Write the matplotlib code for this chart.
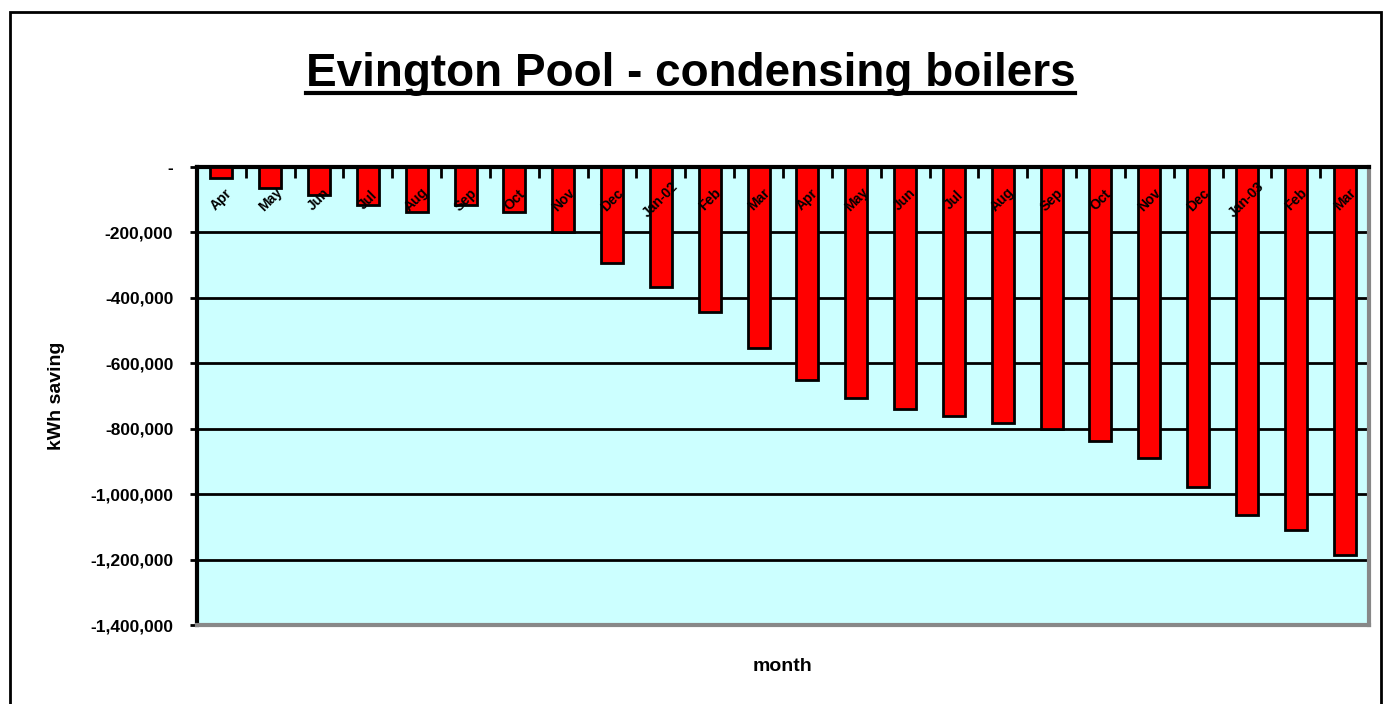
import matplotlib
matplotlib.use("Agg")
from matplotlib import pyplot as plt
from matplotlib.ticker import FuncFormatter
from matplotlib.patches import Rectangle
from matplotlib.lines import Line2D

# months (two years of cumulative savings)
months = ["Apr", "May", "Jun", "Jul", "Aug", "Sep", "Oct", "Nov", "Dec", "Jan-02", "Feb", "Mar",
          "Apr", "May", "Jun", "Jul", "Aug", "Sep", "Oct", "Nov", "Dec", "Jan-03", "Feb", "Mar"]
savings = [-34000, -64000, -86000, -116000, -138000, -116000, -138000, -199000,
           -294000, -367000, -443000, -554000, -651000, -706000, -740000, -761000,
           -783000, -801000, -838000, -890000, -979000, -1064000, -1110000, -1187000]
yticks = [0, -200000, -400000, -600000, -800000, -1000000, -1200000, -1400000]

plt.rcParams['font.family'] = ['Liberation Sans', 'DejaVu Sans']

fig = plt.figure(figsize=(13.91, 7.04), dpi=100)
ax = fig.add_axes([0.1416, 0.1122, 0.9842 - 0.1416, 0.7628 - 0.1122])
ax.set_facecolor("#ccffff")

x = list(range(len(savings)))
ax.bar(x, savings, width=0.45, color="#ff0000", edgecolor="black", linewidth=2, zorder=3)

ax.set_xlim(-0.5, len(savings) - 0.5)
ax.set_ylim(-1400000, 0)
ax.set_yticks(yticks)
ax.yaxis.set_major_formatter(FuncFormatter(lambda v, p: "-" if v == 0 else "{:,.0f}".format(v)))
ax.grid(axis="y", color="black", linewidth=2, zorder=1)
ax.tick_params(axis="y", direction="out", length=5, width=2, labelsize=12.5, pad=12)
for lab in ax.get_yticklabels():
    lab.set_fontweight("bold")

# category ticks hang down from the zero line
ax.xaxis.tick_top()
ax.set_xticks([i + 0.5 for i in x[:-1]])
ax.set_xticklabels([])
ax.tick_params(axis="x", direction="in", length=8, width=2)
for i, m in enumerate(months):
    ax.text(i, -100000, m, rotation=45, ha="center", va="center", fontsize=10,
            fontweight="bold", zorder=4)

ax.spines["left"].set_linewidth(3)
ax.spines["top"].set_linewidth(3)
ax.spines["right"].set_color("#888888")
ax.spines["bottom"].set_color("#888888")
ax.spines["right"].set_linewidth(3)
ax.spines["bottom"].set_linewidth(3)

ax.set_ylabel("kWh saving", fontsize=14, fontweight="bold", labelpad=18)
ax.set_xlabel("month", fontsize=14, fontweight="bold", labelpad=24)

title = fig.text(0.5 - 0.0035, 0.895, "Evington Pool - condensing boilers", ha="center", va="center",
                 fontsize=33, fontweight="bold")

# underline the title
fig.canvas.draw()
bb = title.get_window_extent().transformed(fig.transFigure.inverted())
fig.add_artist(Line2D([bb.x0, bb.x1], [bb.y0 + 0.004, bb.y0 + 0.004], color="black",
                      linewidth=3, transform=fig.transFigure))

# chart frame
fig.add_artist(Rectangle((10 / 1391, -0.05), 1371 / 1391, 1.05 - 12 / 704, fill=False,
                         edgecolor="black", linewidth=2, transform=fig.transFigure))

fig.savefig("out.png", dpi=100)
